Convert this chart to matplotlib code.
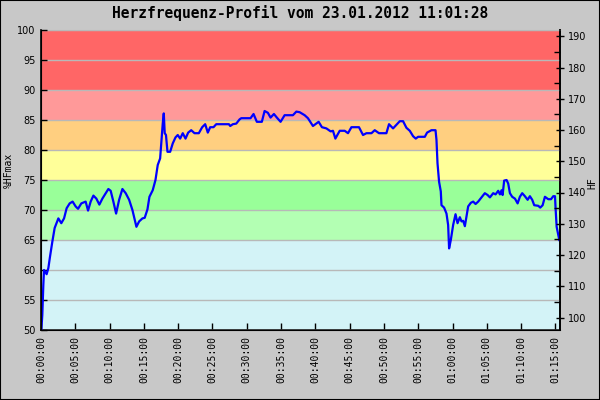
import matplotlib
matplotlib.use("Agg")
import matplotlib.pyplot as plt
from matplotlib.patches import Rectangle
from matplotlib.ticker import MultipleLocator, FuncFormatter

# Zeit in Minuten seit Start, Puls in %HFmax
minuten = [0.05, 0.19, 0.34, 0.44, 0.82, 1.07, 1.31, 1.65, 1.99, 2.53, 2.96, 3.36, 3.74,
           4.18, 4.61, 5.05, 5.40, 5.88, 6.51, 6.86, 7.24, 7.64, 8.07, 8.51, 8.95, 9.39,
           9.82, 10.16, 10.55, 10.95, 11.39, 11.87, 12.35, 12.85, 13.33, 13.91, 14.31,
           14.79, 15.12, 15.52, 15.81, 16.29, 16.69, 17.02, 17.37, 17.61, 17.75, 17.90,
           18.04, 18.22, 18.44, 18.83, 19.21, 19.61, 19.94, 20.29, 20.67, 21.07, 21.46,
           21.90, 22.38, 23.01, 23.50, 23.94, 24.32, 24.67, 25.15, 25.55, 27.39, 27.59,
           27.97, 28.47, 28.95, 29.20, 30.55, 30.99, 31.47, 32.20, 32.60, 33.08, 33.47,
           33.96, 34.39, 34.93, 35.52, 36.73, 37.23, 37.71, 38.44, 38.92, 39.65, 40.48,
           40.96, 41.61, 42.23, 42.57, 42.92, 43.55, 44.28, 44.76, 45.26, 46.36, 46.95,
           47.45, 48.18, 48.66, 49.28, 50.36, 50.74, 51.33, 51.82, 52.31, 52.79, 53.28,
           53.77, 54.25, 54.64, 54.98, 55.96, 56.29, 56.93, 57.52, 57.66, 57.81, 58.04,
           58.29, 58.39, 58.77, 59.12, 59.36, 59.50, 59.75, 60.09, 60.44, 60.73, 61.07,
           61.31, 61.55, 61.80, 62.04, 62.28, 62.67, 63.01, 63.36, 63.74, 64.23, 64.71,
           65.11, 65.45, 65.93, 66.28, 66.66, 66.91, 67.15, 67.30, 67.53, 67.88, 68.12,
           68.37, 68.70, 69.10, 69.49, 69.82, 70.16, 70.55, 70.95, 71.28, 71.62, 71.91,
           72.50, 72.79, 73.14, 73.47, 73.96, 74.36, 74.69, 74.94, 75.04, 75.18, 75.42,
           75.57]
prozent = [50.0, 52.5, 57.5, 60.0, 59.3, 60.3, 62.2, 64.7, 67.0, 68.6, 67.8, 68.6, 70.3,
           71.1, 71.4, 70.6, 70.2, 71.1, 71.4, 69.9, 71.4, 72.4, 71.9, 70.9, 71.9, 72.7,
           73.5, 73.2, 71.4, 69.4, 71.7, 73.5, 72.8, 71.7, 70.0, 67.2, 68.1,
           68.6, 68.7, 70.1, 72.2, 73.3, 75.0, 77.5, 78.6, 82.2, 84.4, 86.1,
           82.8, 82.5, 79.7, 79.7, 81.1, 82.1, 82.5, 81.9, 82.8, 81.9, 82.9,
           83.3, 82.8, 82.8, 83.8, 84.3, 82.9, 83.8, 83.8, 84.3, 84.3, 84.0,
           84.3, 84.4, 85.1, 85.3, 85.3, 86.0, 84.7, 84.7, 86.5, 86.2, 85.4,
           86.0, 85.4, 84.7, 85.8, 85.8, 86.4, 86.3, 85.8, 85.3, 84.0, 84.7,
           83.8, 83.6, 83.1, 83.2, 81.9, 83.2, 83.2, 82.8, 83.8, 83.8, 82.5,
           82.8, 82.8, 83.3, 82.8, 82.8, 84.3, 83.6, 84.2, 84.8, 84.8, 83.7,
           83.2, 82.3, 81.9, 82.2, 82.2, 82.9, 83.3, 83.3, 81.7, 77.8, 74.7,
           73.1, 70.8, 70.4, 69.4, 67.5, 63.6, 65.0, 67.5, 69.3, 67.8, 68.8,
           68.1, 68.2, 67.3, 68.9, 70.6, 71.2, 71.4, 71.0, 71.4, 72.1, 72.8,
           72.5, 72.1, 72.8, 72.6, 73.2, 72.6, 73.3, 72.5, 74.9, 75.0, 74.4,
           72.8, 72.2, 71.9, 71.1, 72.2, 72.8, 72.3, 71.7, 72.3, 71.7, 70.8,
           70.7, 70.4, 70.8, 72.2, 71.8, 71.8, 72.3, 72.3, 70.0, 67.2, 65.8,
           65.0]

# Zonen (in %HFmax) und Farben
zonen_von = [50, 65, 70, 75, 80, 85, 90]
zonen_bis = [65, 70, 75, 80, 85, 90, 100]
zonen_farben = ["#d3f3f7", "#b3ffb3", "#99ff99", "#ffff99", "#ffcf80", "#ff9999", "#ff6666"]

hf_max = 192
titel = "Herzfrequenz-Profil vom 23.01.2012 11:01:28"

fig = plt.figure(figsize=(6, 4), dpi=100, facecolor="#c8c8c8")
ax = fig.add_axes([41 / 600, 70 / 400, 519 / 600, 300 / 400])

for lo, hi, c in zip(zonen_von, zonen_bis, zonen_farben):
    ax.axhspan(lo, hi, color=c, lw=0, zorder=0)

ax.plot(minuten, prozent, color="#0000ff", lw=1.6, zorder=3)

ax.set_xlim(0, 75.67)
ax.set_ylim(50, 100)
ax.yaxis.set_major_locator(MultipleLocator(5))
ax.xaxis.set_major_locator(MultipleLocator(5))
ax.grid(axis="y", color="#b8b8b8", lw=1)
ax.set_axisbelow(False)
for gl in ax.get_ygridlines():
    gl.set_zorder(1)


def zeit_fmt(v, pos):
    s = int(round(v * 60))
    return "%02d:%02d:%02d" % (s // 3600, (s % 3600) // 60, s % 60)


ax.xaxis.set_major_formatter(FuncFormatter(zeit_fmt))
ax.tick_params(axis="x", direction="in", length=5, width=1, pad=4, labelsize=7,
               labelrotation=90)
for t in ax.get_xticklabels():
    t.set_family("DejaVu Sans Mono")
ax.tick_params(axis="y", direction="in", length=4, width=1, labelsize=7, pad=4)
ax.spines["top"].set_color("#b8b8b8")
for s in ["left", "bottom", "right"]:
    ax.spines[s].set_linewidth(1.2)

ax2 = ax.twinx()
ax2.set_ylim(50 * hf_max / 100, 100 * hf_max / 100)
ax2.yaxis.set_major_locator(MultipleLocator(10))
ax2.yaxis.set_minor_locator(MultipleLocator(5))
ax2.tick_params(axis="y", which="major", direction="inout", length=6, width=1,
                labelsize=7, pad=3)
ax2.tick_params(axis="y", which="minor", direction="in", length=4, width=1)
ax2.spines["top"].set_visible(False)
ax2.spines["right"].set_linewidth(1.2)

# Achsentitel direkt auf die Figur setzen
fig.text(9 / 600, 1 - 170 / 400, "%HFmax", rotation=90, ha="center", va="center",
         family="DejaVu Sans Mono", fontsize=7)
fig.text(592 / 600, 1 - 183 / 400, "HF", rotation=90, ha="center", va="center",
         family="DejaVu Sans Mono", fontsize=7)

fig.text(0.5, 1 - 13 / 400, titel, ha="center", va="center",
         family="DejaVu Sans Mono", fontsize=10.5, fontweight="bold")

fig.patches.append(Rectangle((0, 0), 1, 1, transform=fig.transFigure, fill=False,
                             edgecolor="black", lw=1.5))

fig.savefig("out.png", dpi=100, facecolor=fig.get_facecolor())
